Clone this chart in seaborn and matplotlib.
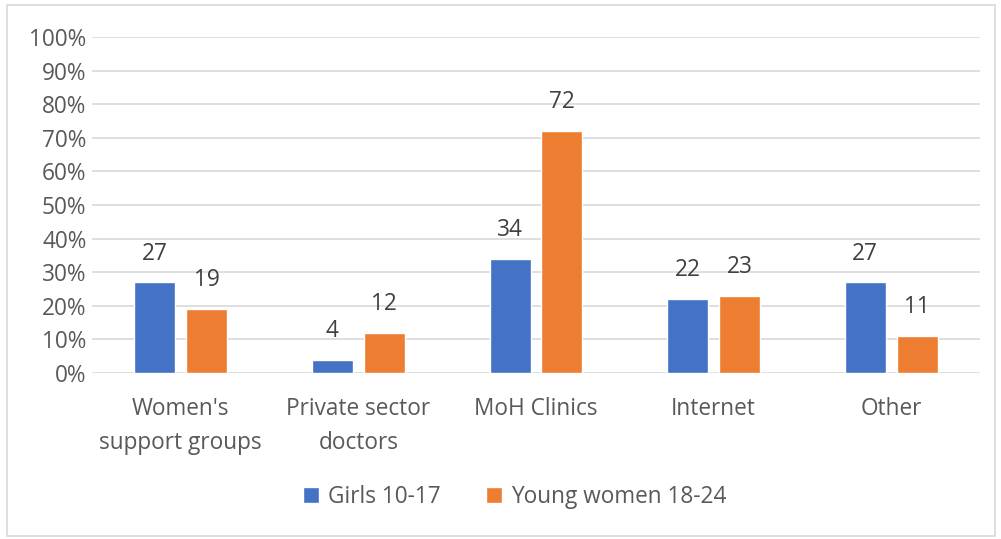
import matplotlib
matplotlib.use("Agg")
import matplotlib.pyplot as plt
import seaborn as sns
import pandas as pd
from matplotlib.patches import Rectangle
from matplotlib.ticker import FuncFormatter

categories = ["Women's\nsupport groups", "Private sector\ndoctors", "MoH Clinics", "Internet", "Other"]
series_names = ["Girls 10-17", "Young women 18-24"]
girls = [27, 4, 34, 22, 27]
young_women = [19, 12, 72, 23, 11]
y_ticks = list(range(0, 101, 10))

colors = ["#4472C4", "#ED7D31"]
text_gray = "#595959"
fs = 16.3

df = pd.DataFrame({
    "source": categories * 2,
    "group": [series_names[0]] * len(categories) + [series_names[1]] * len(categories),
    "value": girls + young_women,
})

sns.set_theme(style="white")
plt.rcParams["font.family"] = ["Open Sans", "DejaVu Sans"]

fig = plt.figure(figsize=(10.01, 5.39), dpi=100)
ax = fig.add_axes([92 / 1001, 166 / 539, 888 / 1001, 336 / 539])

sns.barplot(data=df, x="source", y="value", hue="group", order=categories,
            hue_order=series_names, palette=colors, width=0.585, gap=0.21,
            saturation=1, ax=ax, legend=True, zorder=3)

ax.set_ylim(0, 100)
ax.set_xlim(-0.5, len(categories) - 0.5)
ax.set_yticks(y_ticks)
ax.yaxis.set_major_formatter(FuncFormatter(lambda v, _: f"{int(v)}%"))
ax.grid(axis="y", color="#d9d9d9", linewidth=1.2, zorder=0)
ax.grid(axis="x", visible=False)
for s in ax.spines.values():
    s.set_visible(False)
ax.tick_params(axis="y", length=0, labelsize=fs, labelcolor=text_gray, pad=4)
ax.tick_params(axis="x", length=0, labelsize=fs, labelcolor=text_gray, pad=17)
for lbl in ax.get_xticklabels():
    lbl.set_linespacing(1.6)
ax.set_xlabel("")
ax.set_ylabel("")

for container in ax.containers:
    ax.bar_label(container, fmt="%d", padding=12, fontsize=fs, color="#404040")

handles, labels = ax.get_legend_handles_labels()
ax.legend(handles, labels, loc="center", bbox_to_anchor=(515 / 1001, 42 / 539),
          bbox_transform=fig.transFigure, ncol=2, frameon=False, fontsize=fs,
          handlelength=0.7, handleheight=0.7, handletextpad=0.4, columnspacing=2.0,
          labelcolor=text_gray)

fig.patches.append(Rectangle((7 / 1001, 3 / 539), 988 / 1001, 531 / 539,
                             transform=fig.transFigure, fill=False,
                             edgecolor="#d9d9d9", linewidth=1.2))

fig.savefig("out.png", dpi=100)
